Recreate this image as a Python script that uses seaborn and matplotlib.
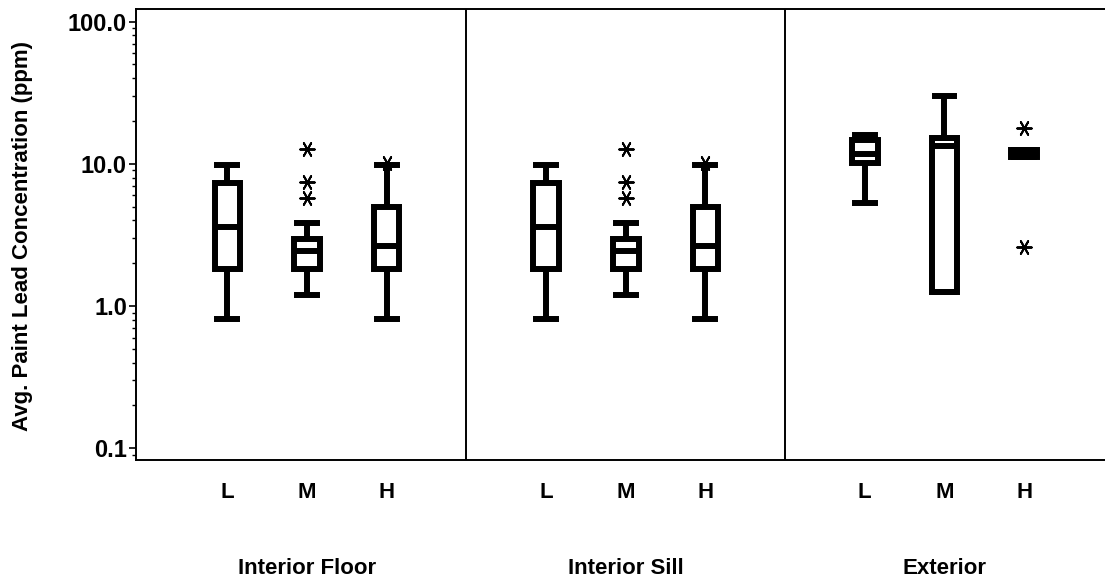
import numpy as np
import pandas as pd
import seaborn as sns
import matplotlib
matplotlib.use("Agg")
import matplotlib.pyplot as plt
from matplotlib.ticker import FixedLocator, FixedFormatter, LogLocator, NullFormatter
from matplotlib.transforms import blended_transform_factory

# ---------------- data ----------------
sites = ["Interior Floor", "Interior Sill", "Exterior"]
levels = ["L", "M", "H"]

# one entry per box: Floor L/M/H, Sill L/M/H, Exterior L/M/H
whisker_low = [0.81, 1.20, 0.81, 0.81, 1.20, 0.81, 5.28, 1.26, 11.1]
q1 = [1.81, 1.82, 1.81, 1.81, 1.82, 1.81, 10.1, 1.26, 11.1]
median = [3.58, 2.45, 2.66, 3.58, 2.45, 2.66, 11.8, 13.3, 11.8]
q3 = [7.38, 2.95, 4.95, 7.38, 2.95, 4.95, 14.7, 15.2, 12.6]
whisker_high = [9.75, 3.82, 9.75, 9.75, 3.82, 9.75, 16.0, 30.2, 12.6]
outliers = [[], [12.7, 7.5, 5.8], [10.2],
            [], [12.7, 7.5, 5.8], [10.2],
            [], [], [17.8, 2.62]]

ytick_values = [0.1, 1.0, 10.0, 100.0]
ytick_labels = ["0.1", "1.0", "10.0", "100.0"]
y_label = "Avg. Paint Lead Concentration (ppm)"

# ---------------- build tables ----------------
rows, out_rows, positions, tick_labels = [], [], [], []
for k in range(len(median)):
    s, l = divmod(k, len(levels))
    pos = s * 4 + l
    positions.append(pos)
    tick_labels.append(levels[l])
    for v in (whisker_low[k], q1[k], median[k], q3[k], whisker_high[k]):
        rows.append({"pos": pos, "value": v})
    for v in outliers[k]:
        out_rows.append({"pos": pos, "value": v})
box_df = pd.DataFrame(rows)
out_df = pd.DataFrame(out_rows)

# ---------------- style ----------------
sns.set_style("ticks")
plt.rcParams["font.family"] = ["Liberation Sans", "DejaVu Sans"]
plt.rcParams["font.weight"] = "bold"
for key in ("text.color", "axes.labelcolor", "xtick.color", "ytick.color",
            "axes.edgecolor"):
    plt.rcParams[key] = "black"
FS = 16

W, H = 1105, 586
fig = plt.figure(figsize=(W / 100, H / 100), dpi=100)
ax_left, ax_right, ax_top, ax_bottom = 136, 1107, 8.5, 460
ax = fig.add_axes([ax_left / W, 1 - ax_bottom / H,
                   (ax_right - ax_left) / W, (ax_bottom - ax_top) / H])

LW = 4.3
sns.boxplot(data=box_df, x="pos", y="value", native_scale=True,
            log_scale=(False, True), whis=(0, 100), width=0.32,
            color="white", linecolor="black", linewidth=LW,
            showfliers=False, capwidths=[0.25] * len(median),
            capprops=dict(solid_capstyle="projecting"),
            boxprops=dict(joinstyle="miter"), ax=ax)

sns.scatterplot(data=out_df, x="pos", y="value", marker=(6, 2, 90), s=110,
                color="black", linewidth=1.4, ax=ax, zorder=5, legend=False)

# axes limits (log y)
ax.set_xscale("linear")
ax.set_yscale("log")
ax.set_ylim(0.0827, 123.8)
ax.set_xlim(-1.147, 11.04)

# panel dividers
for xd in (3, 7):
    ax.axvline(xd, color="black", lw=1.4, zorder=1)

# y ticks
ax.yaxis.set_major_locator(FixedLocator(ytick_values))
ax.yaxis.set_major_formatter(FixedFormatter(ytick_labels))
ax.yaxis.set_minor_locator(LogLocator(base=10, subs=np.arange(2, 10)))
ax.yaxis.set_minor_formatter(NullFormatter())
ax.tick_params(axis="y", which="major", length=5, width=1.2, pad=1.5,
               labelsize=17, color="black", labelcolor="black")
ax.tick_params(axis="y", which="minor", length=3, width=1.0, color="black")

# x ticks
ax.set_xticks(positions)
ax.set_xticklabels(tick_labels, fontsize=FS, fontweight="bold")
ax.tick_params(axis="x", which="both", length=0, pad=16)
ax.set_xlabel("")
ax.set_ylabel("")

for side in ("left", "bottom", "top"):
    ax.spines[side].set_linewidth(1.4)
    ax.spines[side].set_color("black")
ax.spines["right"].set_visible(False)

# group labels under each panel (centered on the middle box)
trans = blended_transform_factory(ax.transData, fig.transFigure)
for s, name in enumerate(sites):
    ax.text(s * 4 + 1, 1 - 568 / H, name, transform=trans, ha="center",
            va="center", fontsize=FS, fontweight="bold")

fig.text(23 / W, 1 - 236 / H, y_label, rotation=90, ha="center", va="center",
         fontsize=FS, fontweight="bold")

fig.savefig("out.png", dpi=100, facecolor="white")
